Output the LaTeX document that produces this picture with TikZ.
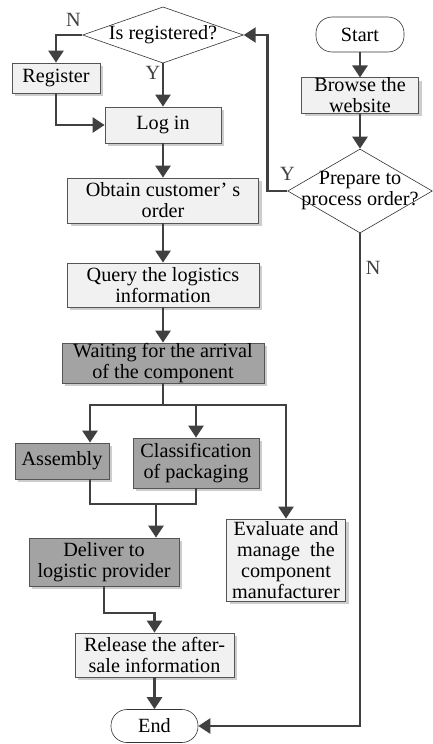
\documentclass[tikz,border=0pt]{standalone}
\usepackage{fontspec}
\setmainfont{Liberation Serif}
\usepackage{tikz}
\usetikzlibrary{arrows.meta, shapes.geometric, shadows, calc}
\definecolor{linegray}{RGB}{64,64,64}
\definecolor{boxdraw}{RGB}{85,85,85}
\definecolor{lightbox}{RGB}{241,241,241}
\definecolor{darkbox}{RGB}{163,163,163}
\definecolor{shadowgray}{RGB}{205,205,205}
\newcommand{\flowfont}{\fontsize{20.2}{21}\selectfont}
\tikzset{
    % Process boxes (light and dark)
    processbox/.style={rectangle, draw=boxdraw, line width=0.8pt, fill=lightbox, align=center, inner sep=0pt, font=\flowfont,
        drop shadow={shadow xshift=3pt, shadow yshift=-3pt, fill=shadowgray, opacity=1}},
    graybox/.style={processbox, fill=darkbox},
    % Decision and terminal shapes
    decisionbox/.style={diamond, draw=black!80, line width=0.6pt, fill=white, align=center, inner sep=0pt, font=\flowfont},
    terminalbox/.style={rectangle, rounded corners=16pt, draw=black!80, line width=0.6pt, fill=white, font=\flowfont},
    % Connector styles
    flowline/.style={line width=2.5pt, color=linegray},
    flowarrow/.style={flowline, -{Triangle[length=12pt, width=15pt]}},
    flowboth/.style={flowline, {Triangle[length=12pt, width=15pt]}-{Triangle[length=12pt, width=15pt]}},
    branchlabel/.style={font=\flowfont, inner sep=1.5pt},
}

\begin{document}
\begin{tikzpicture}[x=1pt, y=-1pt]
\useasboundingbox (0,0) rectangle (433,744);

% ============================================================
% Left column: ordering and handling
% ============================================================
\node[decisionbox, aspect=2.86, minimum width=160pt, minimum height=56pt] (isreg) at (163,35) {Is registered?};
\node[processbox, minimum width=88pt, minimum height=30pt] (register) at (56,78) {Register};
\node[processbox, minimum width=116pt, minimum height=36pt] (login) at (163,125) {Log in};
\node[processbox, minimum width=191pt, minimum height=45pt] (obtain) at (163,200.5) {Obtain customer’ s\\order};
\node[processbox, minimum width=192pt, minimum height=44pt] (query) at (163,285) {Query the logistics\\information};
\node[graybox, minimum width=202pt, minimum height=40pt] (waiting) at (163,363) {Waiting for the arrival\\of the component};

% Parallel tasks
\node[graybox, minimum width=94pt, minimum height=36pt] (assembly) at (62,461) {Assembly};
\node[graybox, minimum width=126pt, minimum height=50pt] (classif) at (196,463) {Classification\\of packaging};
\node[processbox, minimum width=119pt, minimum height=82pt] (evaluate) at (286,560) {Evaluate and\\manage\ \ the\\component\\manufacturer};

% Delivery and end
\node[graybox, minimum width=150pt, minimum height=48pt] (deliver) at (104,562) {Deliver to\\logistic provider};
\node[processbox, minimum width=159pt, minimum height=44pt] (release) at (154.5,655) {Release the after-\\sale information};
\node[terminalbox, minimum width=87pt, minimum height=33pt] (end) at (154.5,726) {End};

% ============================================================
% Right column: customer side
% ============================================================
\node[terminalbox, minimum width=88pt, minimum height=35pt] (start) at (360,34.5) {Start};
\node[processbox, minimum width=117pt, minimum height=35pt] (browse) at (360,95.5) {Browse the\\website};
\node[decisionbox, aspect=1.75, inner xsep=-20pt, minimum width=144pt, minimum height=84pt] (prepare) at (360,191) {Prepare to\\process order?};

% ============================================================
% Connectors
% ============================================================
\draw[flowarrow] (isreg.west) -| node[branchlabel, pos=0.17, above=6pt] {N} (register.north);
\draw[flowarrow] (isreg.south) -- node[branchlabel, pos=0.23, left] {Y} (login.north);
\draw[flowarrow] (register.south) |- (login.west);
\draw[flowarrow] (login) -- (obtain);
\draw[flowarrow] (obtain) -- (query);
\draw[flowarrow] (query) -- (waiting);

% split into parallel tasks
\coordinate (splitA) at (90,405);
\coordinate (splitB) at (196,405);
\coordinate (splitC) at (286,405);
\draw[flowboth] (evaluate.north) -- (splitC) -- (splitA) -- (splitA |- assembly.north);
\draw[flowline] (waiting.south) -- (waiting.south |- splitA);
\draw[flowarrow] (splitB) -- (classif.north);

% join towards delivery
\coordinate (joinA) at (90,504);
\coordinate (joinB) at (196,504);
\coordinate (joinC) at (156,504);
\draw[flowline] (assembly.south -| joinA) -- (joinA) -- (joinB) -- (classif.south);
\draw[flowarrow] (joinC) -- (joinC |- deliver.north);

\coordinate (bendD) at (104,613);
\draw[flowarrow] (deliver.south) -- (bendD) -| (release.north);
\draw[flowarrow] (release) -- (end);

% customer side
\draw[flowarrow] (start) -- (browse);
\draw[flowarrow] (browse) -- (prepare);
\draw[flowarrow] (prepare.west) node[branchlabel, above=8pt] {Y} -- ++(-20,0) |- (isreg.east);
\draw[flowarrow] (prepare.south) |- node[branchlabel, pos=0.035, right=3pt] {N} (end.east);

\end{tikzpicture}
\end{document}
